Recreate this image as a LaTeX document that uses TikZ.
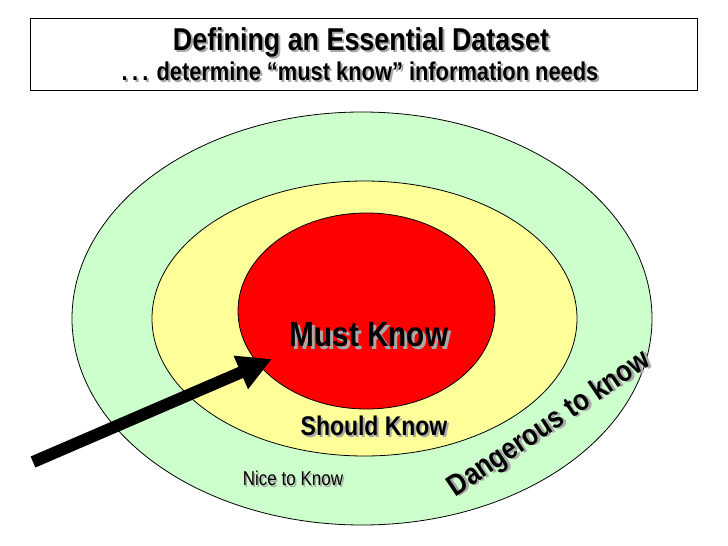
\documentclass[tikz,border=0pt]{standalone}
\usepackage{fontspec}
\setmainfont{Liberation Sans}
\newfontfamily\narrowfont{Liberation Sans}[FakeStretch=0.85]
\usepackage{tikz}
\usetikzlibrary{shapes.geometric,arrows.meta,positioning}
\definecolor{niceGreen}{HTML}{CCFFCC}
\definecolor{shouldYellow}{HTML}{FFFF99}
\definecolor{mustRed}{HTML}{FF0000}
\definecolor{shadowGray}{HTML}{A8A8A8}
\newcommand{\shd}[2][2pt]{\rlap{\color{shadowGray}\kern#1\raisebox{-#1}{#2}}#2}

\begin{document}
\begin{tikzpicture}[x=1pt,y=-1pt,
    ring/.style={ellipse, draw, line width=0.8pt, inner sep=0pt},
    label/.style={inner sep=0pt, anchor=base, font=\narrowfont}]
\useasboundingbox (0,0) rectangle (728,546);

% Draw title box
\draw[line width=0.8pt] (30,18) rectangle (697,90);
\node[label] (title) at (361,50.7)
    {\fontsize{31.6}{34}\selectfont\bfseries\shd{Defining an Essential Dataset}};
\node[label] (subtitle) at (360,80.7)
    {\fontsize{25.7}{28}\selectfont\bfseries\shd{.\,.\,. determine “must know” information needs}};

% Draw rings
\node[ring, fill=niceGreen, minimum width=580pt, minimum height=413pt] (nice) at (362,318.5) {};
\node[ring, fill=shouldYellow, minimum width=425pt, minimum height=275pt] (should) at (364.5,318.5) {};
\node[ring, fill=mustRed, minimum width=257pt, minimum height=196pt] (must) at (366.5,311) {};

% Label rings
\node[label] (mustText) at (369,346.7)
    {\fontsize{35}{37}\selectfont\bfseries\shd[3pt]{Must Know}};
\node[label] (shouldText) at (374,435)
    {\fontsize{27}{29}\selectfont\bfseries\shd{Should Know}};
\node[label] (niceText) at (293,485.7)
    {\fontsize{20}{22}\selectfont\shd[1.5pt]{Nice to Know}};
\node[label, rotate=34] (dangerText) at (554,431)
    {\fontsize{30}{32}\selectfont\bfseries\shd{Dangerous to know}};

% Draw arrow
\coordinate (tail) at (33,462);
\coordinate (tip) at (272,359);
\draw[line width=12pt, -{Triangle[width=34pt,length=34pt]}] (tail) -- (tip);
\end{tikzpicture}
\end{document}
